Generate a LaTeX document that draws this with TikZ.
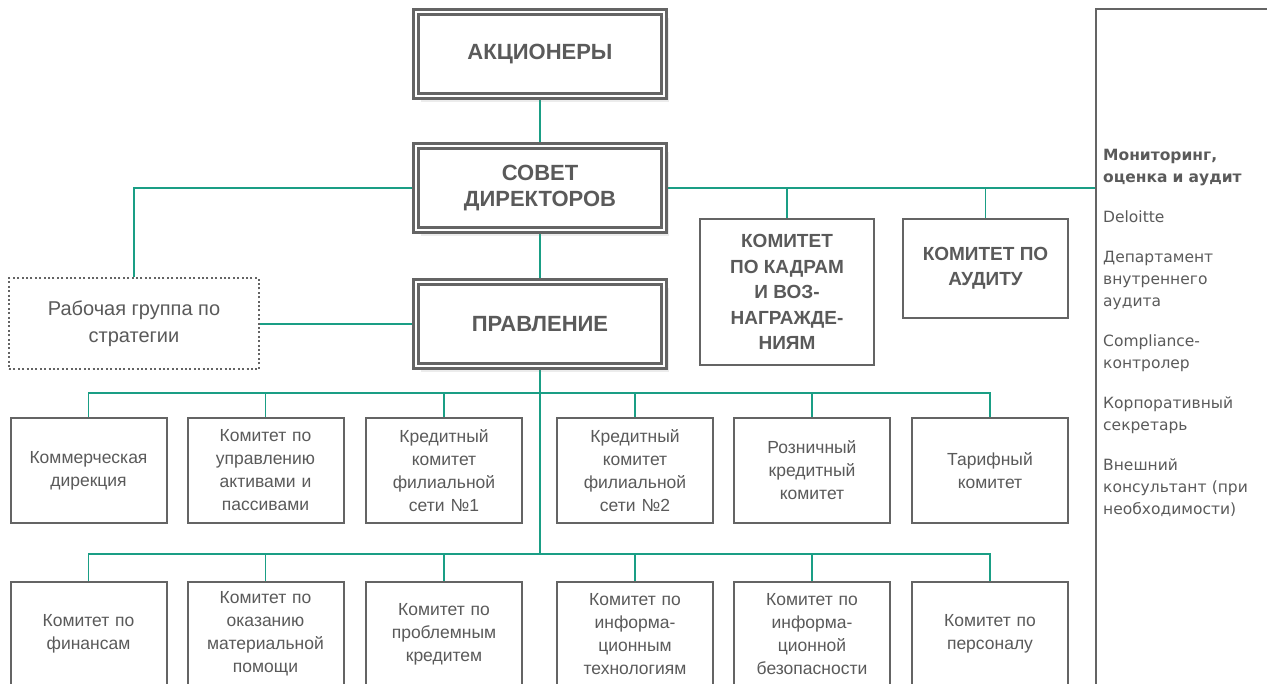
\documentclass[tikz,border=0pt]{standalone}
\usepackage{fontspec}
\setmainfont{Liberation Sans}
\newfontfamily\panelfont{DejaVu Sans}
\usepackage{tikz}
\usetikzlibrary{shadows, backgrounds}

\definecolor{linkgreen}{HTML}{1A9E85}
\definecolor{framegray}{HTML}{646464}
\definecolor{textgray}{HTML}{5A5A5A}

\begin{document}
\begin{tikzpicture}[
    x=1pt, y=-1pt,
    mainbox/.style={draw=framegray, line width=2.5pt, double=white, double distance=2.5pt, fill=white, rectangle, minimum width=248pt, minimum height=84pt, text centered, align=center, text=textgray, font=\bfseries\fontsize{22}{26}\selectfont, drop shadow={shadow xshift=5pt, shadow yshift=-6pt, opacity=0.15}},
    combox/.style={draw=framegray, line width=2pt, fill=white, rectangle, text centered, align=center, text=textgray, font=\bfseries\fontsize{19}{25.5}\selectfont},
    unitbox/.style={draw=framegray, line width=2pt, fill=white, rectangle, minimum width=156pt, minimum height=104pt, text width=146pt, inner sep=4pt, align=center, text=textgray, font=\fontsize{17.5}{23}\selectfont},
    groupbox/.style={draw=framegray, line width=2pt, dash pattern=on 2pt off 2.4pt, fill=white, rectangle, minimum width=250pt, minimum height=91pt, align=center, text=textgray, font=\fontsize{20}{27}\selectfont},
    panelbox/.style={draw=framegray, line width=2pt, rectangle, minimum width=200pt, minimum height=700pt},
    paneltext/.style={text width=162pt, inner sep=0pt, align=left, text=textgray, font=\panelfont\fontsize{15.5}{22}\selectfont},
    link/.style={draw=linkgreen, line width=1.5pt}
]

\path [clip, use as bounding box] (0,0) rectangle (1267,684);

% Верхний уровень
\node (share) [mainbox] at (540,54) {АКЦИОНЕРЫ};
\node (board) [mainbox] at (540,188) {СОВЕТ\\ДИРЕКТОРОВ};
\node (mgmt) [mainbox] at (540,324) {ПРАВЛЕНИЕ};

% Рабочая группа
\node (strat) [groupbox] at (134,324) {Рабочая группа по\\стратегии};

% Комитеты совета
\node (hr) [combox, minimum width=174pt, minimum height=146pt] at (787,292) {КОМИТЕТ\\ПО КАДРАМ\\И ВОЗ-\\НАГРАЖДЕ-\\НИЯМ};
\node (audit) [combox, minimum width=165pt, minimum height=99pt] at (985.5,268.5) {КОМИТЕТ ПО\\АУДИТУ};

% Панель справа
\node (monitor) [panelbox, anchor=north west] at (1095,8) {};
\node (monitortext) [paneltext, anchor=north west] at (1103,149.5) {\textbf{Мониторинг,}\\\textbf{оценка и аудит}\\[18pt]
    Deloitte\\[18pt]
    Департамент\\внутреннего\\аудита\\[18pt]
    Compliance-\\контролер\\[18pt]
    Корпоративный\\секретарь\\[18pt]
    Внешний\\консультант (при\\необходимости)};

% Первый ряд комитетов
\node (r1) [unitbox] at (88.5,470.5) {Коммерческая\\дирекция};
\node (r2) [unitbox] at (265.5,470.5) {Комитет по\\управлению\\активами и\\пассивами};
\node (r3) [unitbox] at (444,470.5) {Кредитный\\комитет\\филиальной\\сети №1};
\node (r4) [unitbox] at (635,470.5) {Кредитный\\комитет\\филиальной\\сети №2};
\node (r5) [unitbox] at (812,470.5) {Розничный\\кредитный\\комитет};
\node (r6) [unitbox] at (990,470.5) {Тарифный\\комитет};

% Второй ряд комитетов
\node (s1) [unitbox] at (88.5,634) {Комитет по\\финансам};
\node (s2) [unitbox] at (265.5,634) {Комитет по\\оказанию\\материальной\\помощи};
\node (s3) [unitbox] at (444,634) {Комитет по\\проблемным\\кредитем};
\node (s4) [unitbox] at (635,634) {Комитет по\\информа-\\ционным\\технологиям};
\node (s5) [unitbox] at (812,634) {Комитет по\\информа-\\ционной\\безопасности};
\node (s6) [unitbox] at (990,634) {Комитет по\\персоналу};

\coordinate (bus1) at (540,393);
\coordinate (bus2) at (540,554);

% Связи
\begin{scope}[on background layer]
    \draw [link] (share) -- (board);
    \draw [link] (board) -- (mgmt);
    \draw [link] (board.west) -| (strat.north);
    \draw [link] (board.east) -- (board.east -| monitor.west);
    \draw [link] (hr.north) -- (hr.north |- board.east);
    \draw [link] (audit.north) -- (audit.north |- board.east);
    \draw [link] (strat.east) -- (mgmt.west);
    \draw [link] (mgmt.south) -- (bus2);

    \draw [link] (r1.north) |- (bus1) -| (r6.north);
    \draw [link] (r2.north) -- (r2.north |- bus1);
    \draw [link] (r3.north) -- (r3.north |- bus1);
    \draw [link] (r4.north) -- (r4.north |- bus1);
    \draw [link] (r5.north) -- (r5.north |- bus1);

    \draw [link] (s1.north) |- (bus2) -| (s6.north);
    \draw [link] (s2.north) -- (s2.north |- bus2);
    \draw [link] (s3.north) -- (s3.north |- bus2);
    \draw [link] (s4.north) -- (s4.north |- bus2);
    \draw [link] (s5.north) -- (s5.north |- bus2);
\end{scope}

\end{tikzpicture}
\end{document}
